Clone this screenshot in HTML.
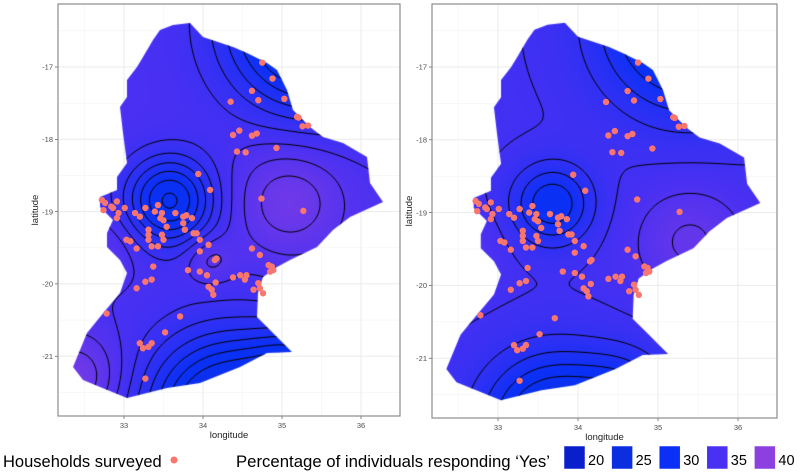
<!DOCTYPE html>
<html><head><meta charset="utf-8">
<style>
html,body{margin:0;padding:0;background:#fff;}
body{width:800px;height:473px;position:relative;overflow:hidden;font-family:"Liberation Sans",sans-serif;}
svg,canvas{position:absolute;left:0;top:0;}
</style></head>
<body>
<svg id="bg" width="800" height="473"></svg>
<canvas id="map1" width="800" height="473"></canvas>
<canvas id="map2" width="800" height="473"></canvas>
<svg id="fg" width="800" height="473"></svg>
<script>
// ---- data ----
const lonTicks = [33, 34, 35, 36];
const latTicks = [-17, -18, -19, -20, -21];
const legendValues = [20, 25, 30, 35, 40];
const legendColors = ["#0a1fcc", "#0a2ee0", "#0a30f6", "#4a30f2", "#8c40e0"];
const hhLon = [34.75,34.88,34.62,34.70,35.03,34.35,35.19,35.21,35.26,35.33,34.38,34.46,34.62,34.68,34.43,34.54,34.93,33.94,34.09,34.74,35.27,32.72,32.74,32.84,32.76,32.91,32.86,32.91,32.93,33.01,33.14,33.20,33.27,33.43,33.39,33.48,33.46,33.50,33.54,33.65,33.75,33.79,33.86,33.75,33.77,33.88,33.96,33.92,33.31,33.31,33.35,33.43,33.50,33.48,33.31,33.03,33.08,33.16,33.96,34.07,34.17,34.15,33.81,33.96,34.05,34.38,34.47,34.55,34.53,34.62,34.72,34.83,34.87,34.89,34.85,33.37,33.16,33.27,33.35,34.07,34.11,34.13,34.16,34.70,34.72,34.76,32.78,33.71,33.52,33.20,33.24,33.31,33.35,33.27,34.64];
const hhLat = [-16.94,-17.16,-17.33,-17.46,-17.44,-17.48,-17.69,-17.70,-17.82,-17.81,-17.94,-17.88,-17.95,-17.92,-18.17,-18.18,-18.12,-18.48,-18.70,-18.82,-18.99,-18.84,-18.98,-18.93,-18.88,-18.86,-18.95,-19.09,-19.02,-18.95,-19.02,-19.07,-18.95,-18.91,-19.00,-19.02,-19.09,-19.12,-19.21,-19.02,-19.07,-19.05,-19.09,-19.16,-19.25,-19.30,-19.39,-19.30,-19.25,-19.32,-19.48,-19.48,-19.39,-19.32,-19.39,-19.39,-19.41,-19.51,-19.55,-19.46,-19.65,-19.67,-19.81,-19.83,-19.88,-19.91,-19.88,-19.88,-19.94,-19.51,-19.60,-19.74,-19.76,-19.81,-19.83,-19.76,-20.06,-19.97,-19.94,-20.04,-20.08,-20.15,-19.98,-19.99,-20.06,-20.13,-20.41,-20.45,-20.67,-20.82,-20.89,-20.87,-20.82,-21.31,-20.08];
// surface bumps per panel: [lon, lat, amplitude, sigma(deg)]
const surfLeftBase = 35.0;
const surfLeft = [[33.58,-18.85,-6.2,0.4],[35.4,-16.4,-9,0.75],[34.3,-21.8,-9,0.7],[35.2,-21.2,-4,0.4],[35.1,-18.85,2.8,0.5],[34.08,-19.66,1.6,0.22],[32.4,-21.3,3,0.4],[32.8,-19.5,1,0.3]];
const surfRightBase = 34.4;
const surfRight = [[33.68,-18.88,-5,0.35],[35.4,-16.4,-8,0.75],[33.7,-21.9,-8,0.6],[34.6,-21.5,-3,0.4],[35.4,-19.4,2.6,0.5],[32.5,-19.5,1.5,0.35]];
const contourLevelsLeft = [29,30,31,32,33,34,35,36,37,38,39];
const contourLevelsRight = [29.25,30.5,31.75,33,34.25,35.5,36.75,38];

// ---- geometry ----
const outlinePx = [[173,25],[190,23],[203,37],[233,47],[247,53],[267,63],[277,70],[287,90],[293,110],[310,127],[323,137],[343,143],[367,157],[370,183],[383,202],[350,217],[333,230],[317,247],[290,260],[277,267],[263,277],[258,293],[257,317],[273,333],[283,343],[292,352],[267,353],[240,367],[200,383],[167,388],[127,398],[100,387],[83,380],[73,367],[87,333],[100,317],[120,293],[127,273],[120,260],[107,247],[107,233],[113,220],[100,207],[100,197],[117,190],[117,177],[127,163],[123,133],[120,107],[127,97],[127,80],[137,67],[143,57],[153,40],[160,30]];
const outline = outlinePx.map(p=>[33+(p[0]-124)/79, -17-(p[1]-67)/72.3]);

const panels = [
 {id:'left', x0:58,x1:400,y0:4,y1:416, lx:124,lxs:79, ly:67,lys:72.3, canvas:'map1', base:surfLeftBase, bumps:surfLeft, levels:contourLevelsLeft},
 {id:'right',x0:432,x1:777,y0:4,y1:418, lx:498,lxs:80, ly:67,lys:72.8, canvas:'map2', base:surfRightBase, bumps:surfRight, levels:contourLevelsRight}
];
panels.forEach(p=>{
  p.X = lon => p.lx + (lon-33)*p.lxs;
  p.Y = lat => p.ly + (-17-lat)*p.lys;
  p.iX = px => 33 + (px-p.lx)/p.lxs;
  p.iY = py => -17 - (py-p.ly)/p.lys;
});

const NS='http://www.w3.org/2000/svg';
function mk(parent,tag,attrs,text){const e=document.createElementNS(NS,tag);for(const k in attrs)e.setAttribute(k,attrs[k]);if(text!==undefined)e.textContent=text;parent.appendChild(e);return e;}
const bg=document.getElementById('bg'), fg=document.getElementById('fg');

panels.forEach(p=>{
  const g=mk(bg,'g',{});
  
  
  for(let v=32.5; v<=36.5; v+=1){const x=p.X(v); if(x>p.x0&&x<p.x1){const l=mk(g,'line',{x1:x,x2:x,y1:p.y0,y2:p.y1,stroke:'#f3f3f3','stroke-width':0.6});}}
  for(let v=-16.5; v>=-21.5; v-=1){const y=p.Y(v); if(y>p.y0&&y<p.y1){const l=mk(g,'line',{x1:p.x0,x2:p.x1,y1:y,y2:y,stroke:'#f3f3f3','stroke-width':0.6});}}
  lonTicks.forEach(v=>{const x=p.X(v);
    const l=mk(g,'line',{x1:x,x2:x,y1:p.y0,y2:p.y1,stroke:'#ebebeb','stroke-width':1});
    
    const t=mk(g,'line',{x1:x,x2:x,y1:p.y1,y2:p.y1+3,stroke:'#333','stroke-width':0.6});
    
    const tx=mk(g,'text',{x:x,y:p.y1+12,'font-size':7.5,fill:'#4d4d4d','text-anchor':'middle'},String(v));
    
  });
  latTicks.forEach(v=>{const y=p.Y(v);
    const l=mk(g,'line',{x1:p.x0,x2:p.x1,y1:y,y2:y,stroke:'#ebebeb','stroke-width':1});
    
    const t=mk(g,'line',{x1:p.x0-3,x2:p.x0,y1:y,y2:y,stroke:'#333','stroke-width':0.6});
    
    const tx=mk(g,'text',{x:p.x0-5,y:y+2.7,'font-size':7.5,fill:'#4d4d4d','text-anchor':'end'},String(v));
    
  });
  const fr=mk(g,'rect',{x:p.x0,y:p.y0,width:p.x1-p.x0,height:p.y1-p.y0,fill:'none',stroke:'#8c8c8c','stroke-width':1.2});
  
  const xt=mk(g,'text',{x:(p.x0+p.x1)/2,y:p.y1+22,'font-size':9.5,fill:'#222','text-anchor':'middle'},'longitude');
  
  const cy=(p.y0+p.y1)/2, cx=p.x0-20;
  const yt=mk(g,'text',{x:cx,y:cy,'font-size':9.5,fill:'#222','text-anchor':'middle',transform:`rotate(-90 ${cx} ${cy})`},'latitude');
  
});

// ---- colour scale ----
function hex(c){return [parseInt(c.slice(1,3),16),parseInt(c.slice(3,5),16),parseInt(c.slice(5,7),16)];}
const stops=legendColors.map(hex);
function col(v){
  let t=(v-legendValues[0])/(legendValues[legendValues.length-1]-legendValues[0])*(stops.length-1);
  t=Math.max(0,Math.min(stops.length-1,t));
  const i=Math.min(stops.length-2,Math.floor(t)), f=t-i;
  return stops[i].map((a,k)=>a+(stops[i+1][k]-a)*f);
}

panels.forEach(p=>{
  const cv=document.getElementById(p.canvas), ctx=cv.getContext('2d');
  const field=(px,py)=>{const lon=p.iX(px),lat=p.iY(py);let v=p.base;
    p.bumps.forEach(b=>{const dx=lon-b[0],dy=(lat-b[1])*0.92;v+=b[2]*Math.exp(-(dx*dx+dy*dy)/(2*b[3]*b[3]));});return v;};
  ctx.save();
  ctx.beginPath();
  outline.forEach((pt,i)=>{const x=p.X(pt[0]),y=p.Y(pt[1]); if(i)ctx.lineTo(x,y); else ctx.moveTo(x,y);});
  ctx.closePath();
  ctx.clip();
  const W=p.x1-p.x0, H=p.y1-p.y0;
  const off=document.createElement('canvas'); off.width=W; off.height=H;
  const octx=off.getContext('2d'); const img=octx.createImageData(W,H);
  for(let j=0;j<H;j++)for(let i=0;i<W;i++){const c=col(field(p.x0+i,p.y0+j));const k=(j*W+i)*4;img.data[k]=c[0];img.data[k+1]=c[1];img.data[k+2]=c[2];img.data[k+3]=255;}
  octx.putImageData(img,0,0);
  ctx.drawImage(off,p.x0,p.y0);
  const st=2, nx=Math.ceil(W/st)+1, ny=Math.ceil(H/st)+1;
  const G=new Float32Array(nx*ny);
  for(let j=0;j<ny;j++)for(let i=0;i<nx;i++)G[j*nx+i]=field(p.x0+i*st,p.y0+j*st);
  ctx.strokeStyle='#000'; ctx.lineWidth=1;
  p.levels.forEach(L=>{
    ctx.beginPath();
    for(let j=0;j<ny-1;j++)for(let i=0;i<nx-1;i++){
      const a=G[j*nx+i],b=G[j*nx+i+1],c=G[(j+1)*nx+i+1],d=G[(j+1)*nx+i];
      const x=p.x0+i*st,y=p.y0+j*st, pts=[];
      if((a<L)!==(b<L))pts.push([x+st*(L-a)/(b-a),y]);
      if((b<L)!==(c<L))pts.push([x+st,y+st*(L-b)/(c-b)]);
      if((c<L)!==(d<L))pts.push([x+st*(L-d)/(c-d),y+st]);
      if((d<L)!==(a<L))pts.push([x,y+st*(L-a)/(d-a)]);
      for(let k=0;k+1<pts.length;k+=2){ctx.moveTo(pts[k][0],pts[k][1]);ctx.lineTo(pts[k+1][0],pts[k+1][1]);}
    }
    ctx.stroke();
  });
  ctx.restore();
  const g=mk(fg,'g',{});
  
  
  hhLon.forEach((lon,i)=>{
    const c=mk(g,'circle',{cx:p.X(lon),cy:p.Y(hhLat[i]),r:3.2,fill:'#f8766d'});
    
    
  });
});

// ---- legend ----
const lg=mk(fg,'g',{});


const t1=mk(lg,'text',{x:3,y:467,'font-size':16.5,fill:'#000'},'Households surveyed');

const d1=mk(lg,'circle',{cx:174,cy:460,r:3.5,fill:'#f8766d'});

const t2=mk(lg,'text',{x:236,y:467,'font-size':16.5,fill:'#000',textLength:314,lengthAdjust:'spacingAndGlyphs'},'Percentage of individuals responding \u2018Yes\u2019');

legendValues.forEach((v,i)=>{
  const x=564+i*47.6;
  const r=mk(lg,'rect',{x:x,y:446,width:21,height:23,fill:legendColors[i],stroke:'#fff','stroke-width':0.5});
  
  const t=mk(lg,'text',{x:x+24,y:465,'font-size':14.5,fill:'#000'},String(v));
  
});
</script>
</body></html>
